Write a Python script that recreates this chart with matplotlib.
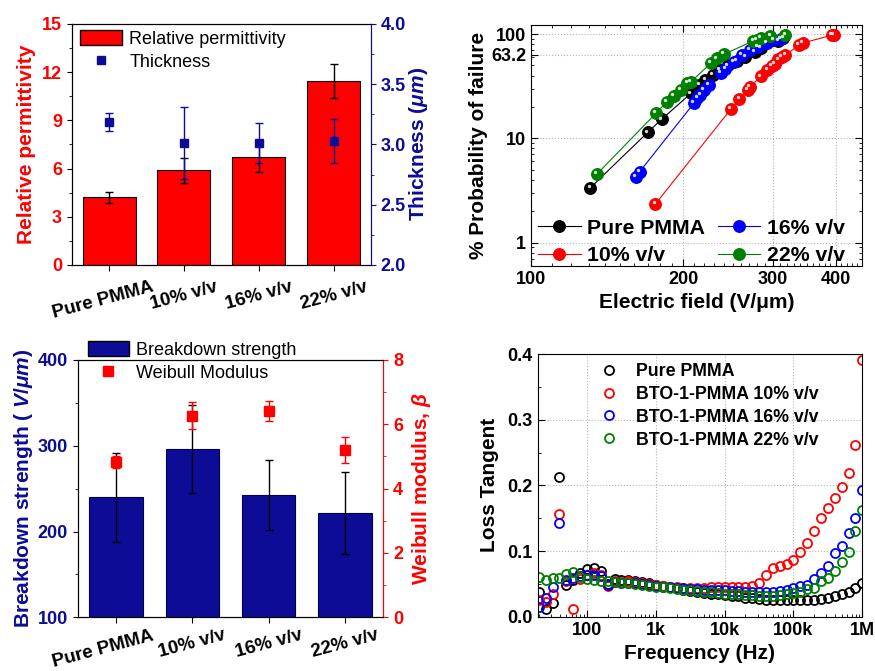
import numpy as np
import matplotlib
matplotlib.use("Agg")
import matplotlib.pyplot as plt
import matplotlib.transforms as mtransforms
from matplotlib.lines import Line2D
from matplotlib.patches import Patch
from matplotlib.ticker import FixedLocator, MultipleLocator, NullFormatter, LogLocator

plt.rcParams['font.family'] = ['Liberation Sans', 'DejaVu Sans']
plt.rcParams['mathtext.fontset'] = 'custom'
plt.rcParams['mathtext.rm'] = 'Liberation Sans:bold'
plt.rcParams['mathtext.it'] = 'Liberation Sans:italic:bold'
plt.rcParams['mathtext.bf'] = 'Liberation Sans:bold'

RED = "#ff0000"
NAVY = "#0c0c96"

# ---- panel (a): permittivity + thickness
cats = ["Pure PMMA", "10% v/v", "16% v/v", "22% v/v"]
perm = [4.2, 5.88, 6.73, 11.43]
perm_err = [0.37, 0.78, 0.95, 1.05]
thick = [3.19, 3.01, 3.01, 3.03]
thick_err = [0.075, 0.30, 0.165, 0.185]

# ---- panel (b): Weibull plots (field V/um, % probability of failure)
pure_E = [131, 170, 181, 207, 215, 221, 229, 236, 245, 255, 265, 277, 284, 308, 315]
pure_P = [3.36, 11.4, 15.2, 27, 32.4, 36.2, 40.4, 45, 50, 55, 60, 67.6, 73, 86, 91]
v10_E = [176, 248, 258, 268, 271, 284, 293, 299, 303, 308, 313, 318, 338, 344, 393, 397]
v10_P = [2.34, 19, 23.7, 29, 31, 39.3, 45.3, 49.3, 52, 57, 60, 63, 78, 82, 97.5, 98]
v16_E = [161, 164, 210, 213, 216, 219.5, 224.5, 237, 242, 252, 261, 271, 281, 292, 301, 312]
v16_P = [4.28, 4.8, 21.9, 24.2, 26, 29.1, 32.6, 42.1, 46.1, 54.3, 62.9, 70.5, 75.5, 82.6, 87.5, 90]
v22_E = [135, 176.5, 185.5, 191.7, 197.6, 203.6, 207, 226.5, 233, 240.4, 275, 279, 284, 297, 318]
v22_P = [4.55, 17.4, 22.4, 25.5, 29, 33.7, 35, 52.4, 58.4, 64, 86, 88, 91, 95.5, 97.8]

# ---- panel (c): breakdown strength + Weibull modulus
bd = [240, 296, 242.5, 221.5]
bd_err = [52, 51.5, 41, 47.6]
beta = [4.83, 6.27, 6.41, 5.2]
beta_err = [0.2, 0.43, 0.3, 0.4]

# ---- panel (d): loss tangent vs frequency
freq = [20, 25.1, 31.6, 39.8, 50.1, 63.1, 79.4,
        100, 126, 158, 200, 251, 316, 398, 501, 631, 794,
        1e3, 1.26e3, 1.58e3, 2e3, 2.51e3, 3.16e3, 3.98e3, 5.01e3, 6.31e3, 7.94e3,
        1e4, 1.26e4, 1.58e4, 2e4, 2.51e4, 3.16e4, 3.98e4, 5.01e4, 6.31e4, 7.94e4,
        1e5, 1.26e5, 1.58e5, 2e5, 2.51e5, 3.16e5, 3.98e5, 5.01e5, 6.31e5, 7.94e5,
        1e6]
tan_pure = [0.037, 0.011, 0.021, 0.212, 0.049, 0.056, 0.066,
            0.072, 0.074, 0.070, 0.050, 0.057, 0.056, 0.056, 0.055, 0.053, 0.051,
            0.049, 0.047, 0.045, 0.043, 0.041, 0.039, 0.037, 0.036, 0.035, 0.034,
            0.033, 0.032, 0.031, 0.029, 0.028, 0.027, 0.026, 0.026, 0.025, 0.025,
            0.025, 0.025, 0.025, 0.026, 0.027, 0.028, 0.031, 0.034, 0.037, 0.044,
            0.051]
tan_10 = [0.025, 0.023, 0.034, 0.157, 0.055, 0.012, 0.058,
          0.063, 0.066, 0.063, 0.047, 0.054, 0.053, 0.054, 0.053, 0.051, 0.050,
          0.048, 0.047, 0.046, 0.045, 0.044, 0.044, 0.044, 0.044, 0.045, 0.045,
          0.045, 0.045, 0.045, 0.046, 0.047, 0.051, 0.064, 0.074, 0.077, 0.080,
          0.087, 0.098, 0.112, 0.130, 0.150, 0.165, 0.181, 0.198, 0.219, 0.262,
          0.391]
tan_16 = [0.015, 0.028, 0.046, 0.143, 0.056, 0.059, 0.062,
          0.063, 0.064, 0.062, 0.048, 0.053, 0.051, 0.052, 0.051, 0.050, 0.049,
          0.047, 0.046, 0.045, 0.044, 0.043, 0.042, 0.042, 0.041, 0.041, 0.040,
          0.040, 0.039, 0.039, 0.038, 0.038, 0.037, 0.037, 0.038, 0.039, 0.041,
          0.043, 0.047, 0.049, 0.057, 0.066, 0.077, 0.097, 0.107, 0.127, 0.150,
          0.193]
tan_22 = [0.061, 0.056, 0.059, 0.059, 0.065, 0.0675, 0.060,
          0.058, 0.056, 0.055, 0.054, 0.053, 0.052, 0.051, 0.050, 0.049, 0.047,
          0.046, 0.045, 0.044, 0.042, 0.041, 0.040, 0.039, 0.038, 0.037, 0.036,
          0.035, 0.034, 0.034, 0.033, 0.033, 0.032, 0.032, 0.032, 0.033, 0.034,
          0.036, 0.038, 0.042, 0.044, 0.054, 0.059, 0.069, 0.083, 0.099, 0.131,
          0.163]

fig = plt.figure(figsize=(8.75, 6.71), dpi=100)
x = np.arange(len(cats))


def nudge_first_label(ax, dx_pt):
    # the long "Pure PMMA" label sits a bit left of its tick in the original
    lab = ax.get_xticklabels()[0]
    lab.set_transform(lab.get_transform() +
                      mtransforms.ScaledTranslation(dx_pt / 72, 0, fig.dpi_scale_trans))


# ================= (a)
axA = fig.add_axes([0.0819, 0.6051, 0.3421, 0.3592])
axA.bar(x, perm, width=0.71, color=RED, edgecolor="black", lw=0.8, zorder=2)
axA.errorbar(x, perm, yerr=perm_err, fmt="none", ecolor="black", elinewidth=1, capsize=3, zorder=3)
axA.set_xlim(-0.5, 3.5)
axA.set_ylim(0, 15)
axA.yaxis.set_major_locator(MultipleLocator(3))
axA.yaxis.set_minor_locator(MultipleLocator(1.5))
axA.set_xticks(x)
axA.set_xticklabels(cats, rotation=15, fontsize=13.5, fontweight="bold")
axA.tick_params(axis="x", direction="out", length=4, pad=6)
axA.tick_params(axis="y", which="both", direction="out", labelsize=13)
axA.tick_params(axis="y", which="minor", length=2)
axA.tick_params(axis="y", colors="black", labelcolor=RED)
for t in axA.get_yticklabels():
    t.set_fontweight("bold")
nudge_first_label(axA, -4)
axA.set_ylabel("Relative permittivity", color=RED, fontsize=15, fontweight="bold", labelpad=4)

axA2 = axA.twinx()
axA2.errorbar(x, thick, yerr=thick_err, fmt="s", color=NAVY, ms=6, elinewidth=1, capsize=3, zorder=4)
axA2.set_ylim(2, 4)
axA2.yaxis.set_major_locator(MultipleLocator(0.5))
axA2.yaxis.set_minor_locator(MultipleLocator(0.25))
axA2.tick_params(axis="y", which="both", direction="out", color=NAVY, labelcolor=NAVY, labelsize=13)
axA2.tick_params(axis="y", which="minor", length=2)
axA2.spines["right"].set_color(NAVY)
for t in axA2.get_yticklabels():
    t.set_fontweight("bold")
axA2.set_ylabel(r"Thickness ($\mu m$)", color=NAVY, fontsize=15, fontweight="bold", labelpad=1)
axA2.legend([Patch(facecolor=RED, edgecolor="black"),
             Line2D([], [], ls="none", marker="s", color=NAVY, ms=6)],
            ["Relative permittivity", "Thickness"],
            loc="upper left", bbox_to_anchor=(-0.007, 1.02), frameon=False, fontsize=13,
            handlelength=2.3, handleheight=0.9, handletextpad=0.4, labelspacing=0.3,
            borderaxespad=0.2)

# ================= (b)
axB = fig.add_axes([0.6069, 0.604, 0.378, 0.3587])
axB.set_xscale("log")
axB.set_yscale("log")
hl = mtransforms.offset_copy(axB.transData, fig=fig, x=-1.3, y=1.3, units="points")
series_b = [(pure_E, pure_P, "black", "Pure PMMA"),
            (v10_E, v10_P, RED, "10% v/v"),
            (v16_E, v16_P, "#0000ff", "16% v/v"),
            (v22_E, v22_P, "#008000", "22% v/v")]
for E, P, c, lab in series_b:
    axB.plot(E, P, color=c, lw=0.8, marker="o", ms=8.3, mfc=c, mec=c, zorder=3)
    axB.plot(E, P, ls="none", marker="o", ms=2.4, mfc="white", mec="none", alpha=0.85,
             transform=hl, zorder=4)
axB.set_xlim(100, 450)
axB.set_ylim(0.6, 122)
axB.xaxis.set_major_locator(FixedLocator([100, 200, 300, 400]))
axB.xaxis.set_minor_locator(FixedLocator([v for v in range(110, 450, 10) if v % 100]))
axB.xaxis.set_major_formatter(plt.FixedFormatter(["100", "200", "300", "400"]))
axB.xaxis.set_minor_formatter(NullFormatter())
axB.yaxis.set_major_locator(FixedLocator([1, 10, 63.2, 100]))
axB.yaxis.set_major_formatter(plt.FixedFormatter(["1", "10", "63.2", "100"]))
axB.yaxis.set_minor_locator(LogLocator(subs=np.arange(2, 10)))
axB.yaxis.set_minor_formatter(NullFormatter())
axB.tick_params(which="both", direction="in", top=True, right=True, labelsize=13)
axB.tick_params(which="major", length=5)
axB.tick_params(which="minor", length=2.5)
for t in axB.get_xticklabels() + axB.get_yticklabels():
    t.set_fontweight("bold")
axB.grid(True, which="major", ls=":", color="#b5b5b5", lw=0.8)
axB.set_xlabel("Electric field (V/\u03bcm)", fontsize=15, fontweight="bold")
axB.set_ylabel("% Probability of failure", fontsize=15, fontweight="bold", labelpad=2)
hb = [Line2D([], [], color=c, lw=0.8, marker="o", ms=8.3, mfc=c, mec=c) for _, _, c, _ in series_b]
axB.legend(hb, [s[3] for s in series_b], ncol=2,
           loc="lower left", bbox_to_anchor=(0.002, -0.025), frameon=False,
           prop={"size": 15.3, "weight": "bold"}, handlelength=2.0, handletextpad=0.3,
           columnspacing=0.6, labelspacing=0.4, borderaxespad=0.2, borderpad=0.1)

# ================= (c)
axC = fig.add_axes([0.0888, 0.0800, 0.3493, 0.3835])
axC.bar(x, bd, width=0.70, color=NAVY, edgecolor="#000050", lw=0.8, zorder=2)
axC.errorbar(x, bd, yerr=bd_err, fmt="none", ecolor="black", elinewidth=1, capsize=3, zorder=3)
axC.set_xlim(-0.5, 3.5)
axC.set_ylim(100, 400)
axC.yaxis.set_major_locator(MultipleLocator(100))
axC.yaxis.set_minor_locator(MultipleLocator(50))
axC.set_xticks(x)
axC.set_xticklabels(cats, rotation=15, fontsize=13.5, fontweight="bold")
axC.tick_params(axis="x", direction="out", length=4, pad=3)
axC.tick_params(axis="y", which="both", direction="out", labelcolor=NAVY, labelsize=13)
axC.tick_params(axis="y", which="minor", length=2)
for t in axC.get_yticklabels():
    t.set_fontweight("bold")
nudge_first_label(axC, -9)
axC.set_ylabel(r"Breakdown strength ( $V/\mu m$)", color=NAVY, fontsize=15, fontweight="bold", labelpad=2)

axC2 = axC.twinx()
axC2.errorbar(x, beta, yerr=beta_err, fmt="s", color=RED, ms=7, elinewidth=1, capsize=3, zorder=4)
axC2.set_ylim(0, 8)
axC2.yaxis.set_major_locator(MultipleLocator(2))
axC2.yaxis.set_minor_locator(MultipleLocator(1))
axC2.tick_params(axis="y", which="both", direction="out", color=RED, labelcolor=RED, labelsize=13)
axC2.tick_params(axis="y", which="minor", length=2)
axC2.spines["right"].set_color(RED)
for t in axC2.get_yticklabels():
    t.set_fontweight("bold")
axC2.set_ylabel(r"Weibull modulus, $\beta$", color=RED, fontsize=15, fontweight="bold", labelpad=5)
axC2.legend([Patch(facecolor=NAVY, edgecolor="black"),
             Line2D([], [], ls="none", marker="s", color=RED, ms=7)],
            ["Breakdown strength", "Weibull Modulus"],
            loc="upper left", bbox_to_anchor=(-0.003, 1.115), frameon=False, fontsize=13,
            handlelength=2.3, handleheight=0.9, handletextpad=0.4, labelspacing=0.3,
            borderaxespad=0.2)

# ================= (d)
axD = fig.add_axes([0.6145, 0.0809, 0.371, 0.3915])
axD.set_xscale("log")
series_d = [(tan_pure, "black", "Pure PMMA"),
            (tan_10, RED, "BTO-1-PMMA 10% v/v"),
            (tan_16, "#0000ff", "BTO-1-PMMA 16% v/v"),
            (tan_22, "#008000", "BTO-1-PMMA 22% v/v")]
for vals, c, lab in series_d:
    axD.plot(freq, vals, ls="none", marker="o", ms=6.5, mfc="none", mec=c, mew=1.3, label=lab)
axD.set_xlim(19.2, 1e6)
axD.set_ylim(0, 0.4)
axD.xaxis.set_major_locator(FixedLocator([1e2, 1e3, 1e4, 1e5, 1e6]))
axD.xaxis.set_major_formatter(plt.FixedFormatter(["100", "1k", "10k", "100k", "1M"]))
axD.xaxis.set_minor_locator(LogLocator(subs=np.arange(2, 10)))
axD.xaxis.set_minor_formatter(NullFormatter())
axD.yaxis.set_major_locator(MultipleLocator(0.1))
axD.yaxis.set_minor_locator(MultipleLocator(0.05))
axD.yaxis.set_major_formatter(plt.FormatStrFormatter("%.1f"))
axD.tick_params(which="both", direction="in", labelsize=13)
axD.tick_params(which="major", length=5)
axD.tick_params(which="minor", length=2.5)
for t in axD.get_xticklabels() + axD.get_yticklabels():
    t.set_fontweight("bold")
axD.grid(True, which="major", ls=":", color="#b5b5b5", lw=0.8)
axD.set_xlabel("Frequency (Hz)", fontsize=15, fontweight="bold")
axD.set_ylabel("Loss Tangent", fontsize=15, fontweight="bold", labelpad=6)
axD.legend(loc="upper left", bbox_to_anchor=(0.165, 1.0), frameon=False,
           prop={"size": 12.8, "weight": "bold"}, handlelength=1.0, handletextpad=1.0,
           labelspacing=0.33, borderaxespad=0.1)

fig.savefig("out.png", dpi=100)
